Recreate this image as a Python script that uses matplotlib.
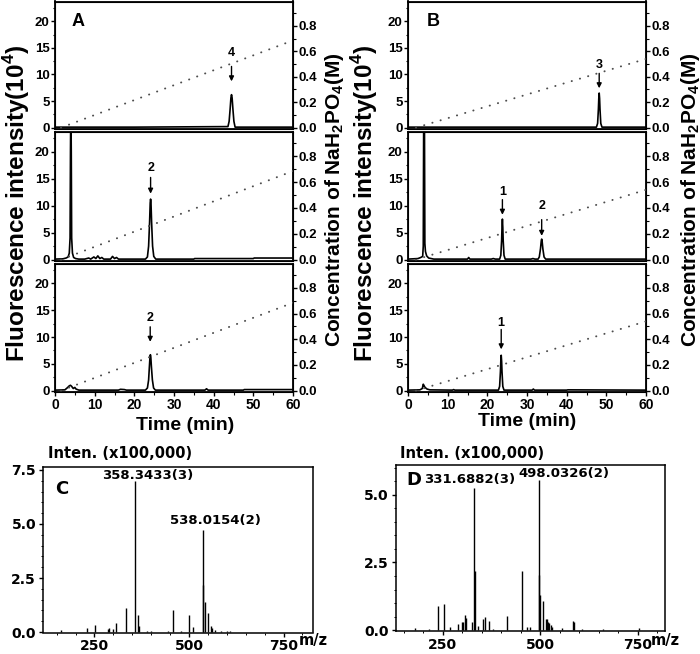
import matplotlib
matplotlib.use('Agg')
import matplotlib.pyplot as plt
from matplotlib.ticker import MultipleLocator

# ---------------- data ----------------
# gradients (time min, NaH2PO4 M)
grad_A_t = [1.5, 60]
grad_A_c = [0.0, 0.685]
grad_B_t = [2.0, 60]
grad_B_c = [0.0, 0.54]

# panel A traces (time, fluorescence x10^4)
A1_t = [0, 20, 43.6, 43.9, 44.15, 44.35, 44.5, 44.65, 44.85, 45.1, 45.4, 60]
A1_y = [0.1, 0.1, 0.2, 1.2, 3.5, 5.6, 6.2, 5.6, 3.5, 1.2, 0.1, 0.1]

A2_t = [0, 2.0, 2.8, 3.3, 3.6, 3.8, 3.9, 4.0, 4.1, 4.2, 4.4, 4.7, 5.2, 6.0,
        7.5, 8.5, 9.0, 9.8, 10.3, 10.8, 11.3, 11.8, 12.3, 14.0, 14.5, 15.0, 15.5, 16.0,
        22.8, 23.3, 23.6, 23.85, 24.0, 24.1, 24.2, 24.35, 24.6, 24.9, 25.4,
        35.0, 35.2, 50.0, 50.2, 60]
A2_y = [0.1, 0.15, 0.3, 0.5, 1.2, 4, 20, 30, 20, 4, 1.2, 0.4, 0.2, 0.1,
        0.1, 0.3, 0.1, 0.5, 0.2, 0.7, 0.2, 0.4, 0.1, 0.1, 0.6, 0.2, 0.4, 0.1,
        0.1, 0.5, 2.5, 7.0, 10.5, 11.2, 10.5, 7.0, 2.5, 0.6, 0.1,
        0.1, 0.2, 0.2, 0.3, 0.3]

A3_t = [0, 2.5, 3.2, 3.6, 3.9, 4.2, 4.6, 5.0, 5.3, 6.0, 16.0, 16.5, 17.5, 18.0,
        22.8, 23.3, 23.6, 23.8, 23.95, 24.05, 24.15, 24.3, 24.55, 24.85, 25.3,
        37.8, 38.2, 38.6, 47.5, 47.7, 60]
A3_y = [0.1, 0.15, 0.6, 0.9, 1.0, 0.8, 0.4, 0.6, 0.3, 0.1, 0.1, 0.25, 0.2, 0.1,
        0.1, 0.5, 2.0, 4.5, 6.3, 6.7, 6.3, 4.5, 2.0, 0.5, 0.1,
        0.1, 0.35, 0.1, 0.1, 0.2, 0.2]

# panel B traces
B1_t = [0, 20, 47.5, 47.8, 48.0, 48.1, 48.2, 48.3, 48.4, 48.6, 48.9, 60]
B1_y = [0.1, 0.1, 0.1, 0.8, 3.5, 5.5, 6.5, 5.5, 3.5, 0.8, 0.1, 0.1]

B2_t = [0, 2.5, 3.2, 3.7, 3.85, 3.95, 4.05, 4.15, 4.25, 4.4, 4.7, 5.2, 6.5,
        11.5, 15.0, 15.3, 15.6, 21.0, 21.5, 22.0,
        23.1, 23.4, 23.6, 23.7, 23.8, 23.9, 24.0, 24.2, 24.5,
        31.0, 31.5, 32.0,
        32.8, 33.1, 33.4, 33.6, 33.7, 33.8, 34.0, 34.3, 34.7, 60]
B2_y = [0.1, 0.2, 0.4, 0.6, 2.5, 25, 30, 25, 3, 1.5, 0.7, 0.3, 0.1,
        0.1, 0.1, 0.4, 0.1, 0.1, 0.2, 0.1,
        0.1, 0.8, 3.5, 6.0, 7.5, 6.0, 3.5, 0.8, 0.1,
        0.1, 0.2, 0.1,
        0.1, 0.5, 2.0, 3.5, 3.8, 3.5, 2.0, 0.5, 0.1, 0.1]

B3_t = [0, 3.0, 3.6, 3.85, 4.0, 4.3, 4.8, 5.5, 11.2, 11.5, 11.8,
        22.8, 23.1, 23.3, 23.4, 23.5, 23.6, 23.7, 23.9, 24.2,
        31.3, 31.6, 31.9, 40.0, 40.3, 60]
B3_y = [0.1, 0.15, 0.4, 1.2, 1.0, 0.6, 0.3, 0.15, 0.1, 0.2, 0.1,
        0.1, 0.8, 3.5, 5.5, 6.6, 5.5, 3.5, 0.8, 0.1,
        0.1, 0.3, 0.1, 0.1, 0.15, 0.1]

# peak annotations: (label, time, label_y, arrow_from_y, arrow_to_y)
A1_ann = [('4', 44.5, 14.1, 11.5, 8.7)]
A2_ann = [('2', 24.1, 16.9, 15.2, 12.2)]
A3_ann = [('2', 24.0, 13.5, 11.9, 9.1)]
B1_ann = [('3', 48.2, 11.8, 10.2, 7.4)]
B2_ann = [('1', 23.8, 12.5, 11.1, 8.3), ('2', 33.7, 9.9, 7.4, 4.4)]
B3_ann = [('1', 23.5, 12.7, 11.4, 7.7)]

# mass spectra (m/z, intensity x100,000)
C_mz = [161, 231, 251, 286, 289, 299, 307, 333, 358.34, 364, 368.5, 388, 400, 445,
        458, 480, 500, 511, 536, 538.02, 541.5, 551, 557, 562, 569, 585, 600, 609]
C_int = [0.1, 0.2, 0.33, 0.12, 0.2, 0.15, 0.4, 1.1, 7.0, 0.8, 0.3, 0.05, 0.04, 0.04,
         1.0, 0.04, 0.77, 0.25, 2.2, 4.73, 1.4, 0.9, 0.3, 0.2, 0.1, 0.05, 0.03, 0.03]

D_mz = [179, 215, 239, 254, 269, 290, 299, 303, 307, 310, 325, 331.69, 333.5, 342,
        354, 359, 368, 380, 414, 454, 466, 474, 496, 498.03, 500, 507, 515, 518,
        521, 524, 527, 530, 555, 584, 587, 607, 660, 754]
D_int = [0.07, 0.03, 0.88, 0.98, 0.10, 0.23, 0.30, 0.30, 0.56, 0.45, 0.30, 5.25, 2.2, 0.15,
         0.42, 0.50, 0.33, 0.05, 0.54, 2.2, 0.12, 0.10, 2.05, 5.53, 1.3, 1.07, 0.42, 0.40,
         0.30, 0.25, 0.18, 0.12, 0.07, 0.33, 0.30, 0.05, 0.03, 0.07]

C_labels = [('358.3433(3)', 390, 7.22), ('538.0154(2)', 570, 5.14)]
D_labels = [('331.6882(3)', 320, 5.55), ('498.0326(2)', 560, 5.79)]

# ---------------- figure ----------------
plt.rcParams['font.family'] = ['Liberation Sans', 'DejaVu Sans']
plt.rcParams['font.weight'] = 'bold'
plt.rcParams['mathtext.fontset'] = 'custom'
plt.rcParams['mathtext.rm'] = 'Liberation Sans'
plt.rcParams['mathtext.bf'] = 'Liberation Sans:bold'

W, H = 700, 654
fig = plt.figure(figsize=(7.0, 6.54), dpi=100)


def rect(l, t, r, b):
    return [l / W, 1 - b / H, (r - l) / W, (b - t) / H]


YLO, YHI = -0.25, 23.7
K = 0.0418  # right-axis units per left-axis unit
rows = [(1.5, 129.0), (131.5, 261.0), (263.5, 392.0)]


def chrom(l, r, row, t, y, gt, gc, ann, bottom):
    top_px, bot_px = rows[row]
    ax = fig.add_axes(rect(l, top_px, r, bot_px))
    ax.plot(t, y, color='k', lw=1.2, solid_joinstyle='round')
    ax.set_xlim(0, 60)
    ax.set_ylim(YLO, YHI)
    ax.yaxis.set_major_locator(MultipleLocator(5))
    ax.yaxis.set_minor_locator(MultipleLocator(2.5))
    ax.tick_params(axis='y', which='major', direction='out', length=3, width=1,
                   labelsize=9.5, pad=1)
    ax.tick_params(axis='y', which='minor', direction='out', length=1.8, width=0.8)
    if bottom:
        ax.xaxis.set_major_locator(MultipleLocator(10))
        ax.xaxis.set_minor_locator(MultipleLocator(5))
        ax.tick_params(axis='x', which='major', direction='out', length=3, width=1,
                       labelsize=10, pad=1)
        ax.tick_params(axis='x', which='minor', direction='out', length=1.8, width=0.8)
    else:
        ax.tick_params(axis='x', which='both', bottom=False, labelbottom=False)
    for s in ax.spines.values():
        s.set_linewidth(1.3)
    ax2 = ax.twinx()
    ax2.plot(gt, gc, color='0.3', lw=1.4, linestyle=(0, (0.1, 4.3)),
             dash_capstyle='round')
    ax2.set_ylim(YLO * K, YHI * K)
    ax2.yaxis.set_major_locator(MultipleLocator(0.2))
    ax2.yaxis.set_minor_locator(MultipleLocator(0.1))
    ax2.yaxis.set_major_formatter(matplotlib.ticker.FormatStrFormatter('%.1f'))
    ax2.tick_params(axis='y', which='major', direction='out', length=3, width=1,
                    labelsize=9.5, pad=1)
    ax2.tick_params(axis='y', which='minor', direction='out', length=1.8, width=0.8)
    for lab, tx, ly, ay0, ay1 in ann:
        ax.text(tx, ly, lab, ha='center', va='center', fontsize=9, fontweight='bold')
        ax.annotate('', xy=(tx, ay1), xytext=(tx, ay0),
                    arrowprops=dict(arrowstyle='-|>', color='k', lw=1.0,
                                    mutation_scale=7, shrinkA=0, shrinkB=0))
    return ax


AL, AR = 55, 293
BL, BR = 408, 646
chrom(AL, AR, 0, A1_t, A1_y, grad_A_t, grad_A_c, A1_ann, False)
chrom(AL, AR, 1, A2_t, A2_y, grad_A_t, grad_A_c, A2_ann, False)
chrom(AL, AR, 2, A3_t, A3_y, grad_A_t, grad_A_c, A3_ann, True)
chrom(BL, BR, 0, B1_t, B1_y, grad_B_t, grad_B_c, B1_ann, False)
chrom(BL, BR, 1, B2_t, B2_y, grad_B_t, grad_B_c, B2_ann, False)
chrom(BL, BR, 2, B3_t, B3_y, grad_B_t, grad_B_c, B3_ann, True)

ylab_l = 'Fluorescence intensity(10$^{\\mathbf{4}}$)'
ylab_r = 'Concentration of NaH$_{\\mathbf{2}}$PO$_{\\mathbf{4}}$(M)'
fig.text(17 / W, 1 - 203 / H, ylab_l, rotation=90, ha='center', va='center',
         fontsize=17.5, fontweight='bold')
fig.text(365 / W, 1 - 203 / H, ylab_l, rotation=90, ha='center', va='center',
         fontsize=17.5, fontweight='bold')
fig.text(334 / W, 1 - 200 / H, ylab_r, rotation=90, ha='center', va='center',
         fontsize=15, fontweight='bold')
fig.text(690 / W, 1 - 200 / H, ylab_r, rotation=90, ha='center', va='center',
         fontsize=15, fontweight='bold')
fig.text(185 / W, 1 - 425 / H, 'Time (min)', ha='center', va='center',
         fontsize=14, fontweight='bold')
fig.text(527 / W, 1 - 422 / H, 'Time (min)', ha='center', va='center',
         fontsize=14, fontweight='bold')
fig.text(78.5 / W, 1 - 21 / H, 'A', ha='center', va='center', fontsize=13,
         fontweight='bold')
fig.text(433 / W, 1 - 21 / H, 'B', ha='center', va='center', fontsize=13,
         fontweight='bold')

# ---------------- mass spectra ----------------
MSF = 'DejaVu Sans'


def ms(box, xlim, ylim, yticks, mz, inten, labels, letter, letter_x, letter_y):
    ax = fig.add_axes(rect(*box))
    ax.vlines(mz, 0, inten, color='k', lw=1.0)
    ax.set_xlim(*xlim)
    ax.set_ylim(*ylim)
    ax.set_xticks([250, 500, 750])
    ax.xaxis.set_minor_locator(MultipleLocator(50))
    ax.set_yticks(yticks)
    ax.yaxis.set_major_formatter(matplotlib.ticker.FormatStrFormatter('%.1f'))
    ax.yaxis.set_minor_locator(MultipleLocator(0.5))
    ax.tick_params(which='major', direction='out', length=3, width=1,
                   labelsize=10, labelfontfamily=MSF, pad=2)
    ax.tick_params(which='minor', direction='out', length=1.5, width=0.7)
    for s in ax.spines.values():
        s.set_linewidth(1.1)
    for txt, x, y in labels:
        ax.text(x, y, txt, ha='center', va='center', fontsize=9.5,
                fontweight='bold', family=MSF)
    ax.text(letter_x, letter_y, letter, ha='center', va='center', fontsize=13,
            fontweight='bold', family=MSF)
    return ax


ms((43, 466.7, 313, 632.5), (114, 828), (-0.02, 7.65), [0.0, 2.5, 5.0, 7.5],
   C_mz, C_int, C_labels, 'C', 164, 6.64)
ms((395.7, 465, 665, 631), (130, 820), (-0.03, 6.1), [0.0, 2.5, 5.0],
   D_mz, D_int, D_labels, 'D', 177, 5.55)

for x0 in (48, 400):
    fig.text(x0 / W, 1 - 453.5 / H, 'Inten. (x100,000)', ha='left', va='center',
             fontsize=10.5, fontweight='bold', family=MSF)
for x0 in (299, 651):
    fig.text(x0 / W, 1 - 640 / H, 'm/z', ha='left', va='center',
             fontsize=10.5, fontweight='bold', family=MSF)

fig.savefig('out.png', dpi=100)
